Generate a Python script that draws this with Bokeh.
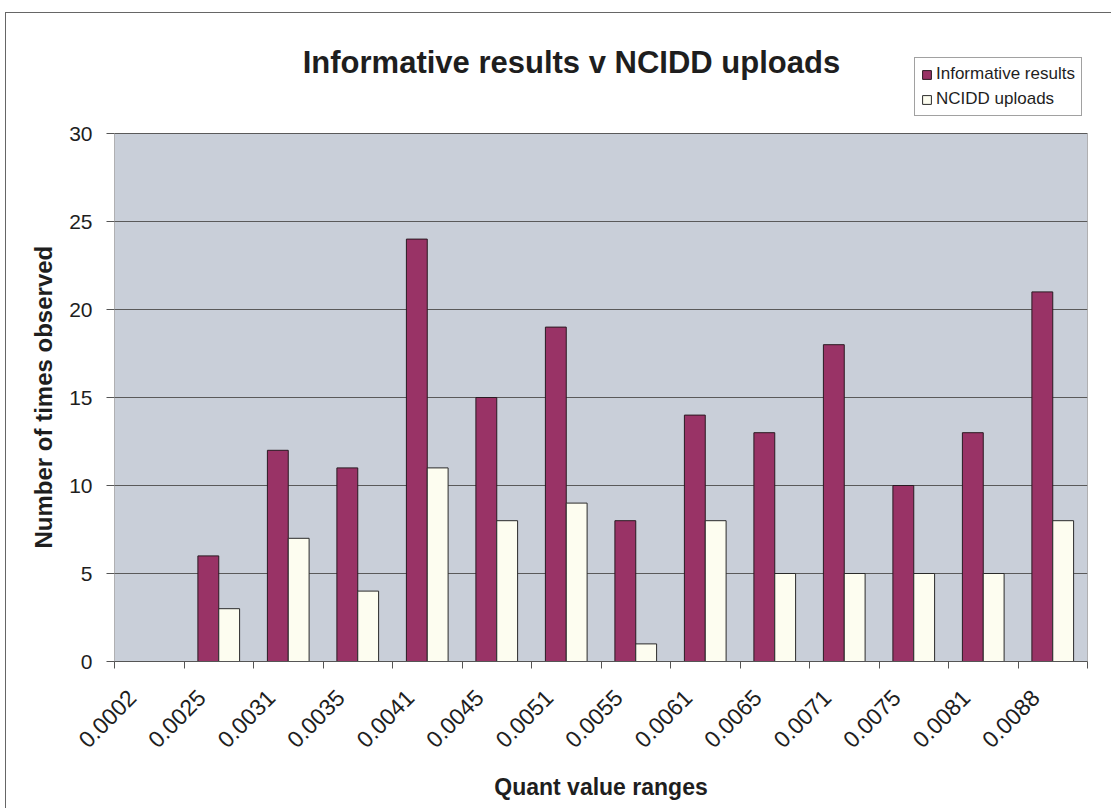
from bokeh.plotting import figure
from bokeh.embed import file_html
from bokeh.resources import INLINE
from bokeh.models import (ColumnDataSource, Range1d, FixedTicker, Legend, LegendItem,
                          BoxAnnotation, Label, Title)
from bokeh.transform import dodge

categories = ["0.0002", "0.0025", "0.0031", "0.0035", "0.0041", "0.0045", "0.0051",
              "0.0055", "0.0061", "0.0065", "0.0071", "0.0075", "0.0081", "0.0088"]
informative = [0, 6, 12, 11, 24, 15, 19, 8, 14, 13, 18, 10, 13, 21]
ncidd = [0, 3, 7, 4, 11, 8, 9, 1, 8, 5, 5, 5, 5, 8]
y_ticks = [0, 5, 10, 15, 20, 25, 30]
Y_MAX = 30

n = len(categories)
centers = [i + 0.5 for i in range(n)]
boundaries = [float(i) for i in range(n + 1)]
label_pos = [c - 0.25 for c in centers]

src = ColumnDataSource(dict(x=centers, inf=informative, nc=ncidd, cat=categories))

FONT = "Liberation Sans"
TXT = "#1e1e1e"

# layout (pixels): plot area spans 528 px for 0..30; frame extended upward to hold title & legend
PLOT_H = 528
FRAME_H = 620
PX_PER_UNIT = PLOT_H / Y_MAX
y_top = FRAME_H / PX_PER_UNIT

p = figure(width=1106, height=796, output_backend="svg", toolbar_location=None,
           x_range=Range1d(0, n), y_range=Range1d(0, y_top),
           min_border_left=108, min_border_right=25, min_border_top=28, min_border_bottom=148,
           margin=(12, 0, 0, 5))
p.styles = {"border-top": "1px solid #666666", "border-left": "1px solid #666666"}

p.background_fill_color = "white"
p.border_fill_color = "white"
p.outline_line_color = None

plot_area = BoxAnnotation(left=0, right=n, bottom=0, top=Y_MAX, level="image",
                          fill_color="#c9cfd9", fill_alpha=1,
                          line_color="#6f6f6f", line_width=1, line_alpha=1)
p.add_layout(plot_area)

r1 = p.vbar(x=dodge("x", -0.15, range=p.x_range), top="inf", width=0.3, source=src,
            fill_color="#993366", line_color="#2a1a22", line_width=1)
r2 = p.vbar(x=dodge("x", 0.15, range=p.x_range), top="nc", width=0.3, source=src,
            fill_color="#fdfdf0", line_color="#2a2a2a", line_width=1)

# chart title (inside the extended frame, above the plot area)
title = Label(x=6.575, y=599 / PX_PER_UNIT,
              text="Informative results v NCIDD uploads",
              text_align="center", text_baseline="alphabetic",
              text_font=FONT, text_font_size="31px", text_font_style="bold",
              text_color=TXT)
p.add_layout(title)

# x axis
xa = p.xaxis[0]
xa.ticker = FixedTicker(ticks=label_pos, minor_ticks=boundaries)
xa.major_label_overrides = {c: lab for c, lab in zip(label_pos, categories)}
xa.major_label_orientation = 0.785398
xa.major_tick_in = 0
xa.major_tick_out = 0
xa.minor_tick_in = 0
xa.minor_tick_out = 7
xa.minor_tick_line_color = "#555555"
xa.axis_line_color = "#555555"
xa.major_label_text_font = FONT
xa.major_label_text_font_size = "23px"
xa.major_label_text_color = TXT
xa.major_label_standoff = 25
xa.axis_label = "Quant value ranges"
xa.axis_label_text_font = FONT
xa.axis_label_text_font_size = "23px"
xa.axis_label_text_font_style = "bold"
xa.axis_label_text_color = TXT
xa.axis_label_standoff = 16

# y axis
ya = p.yaxis[0]
ya.ticker = FixedTicker(ticks=y_ticks)
ya.major_tick_in = 0
ya.major_tick_out = 8
ya.minor_tick_line_color = None
ya.major_tick_line_color = "#555555"
ya.axis_line_color = None
ya.major_label_text_font = FONT
ya.major_label_text_font_size = "21px"
ya.major_label_text_color = TXT
ya.major_label_standoff = 14

ytitle = Title(text="Number of times observed", align="left", offset=113, standoff=20,
               text_font=FONT, text_font_size="24px", text_font_style="bold",
               text_color=TXT)
p.add_layout(ytitle, "left")

p.xgrid.grid_line_color = None
p.ygrid.ticker = FixedTicker(ticks=y_ticks)
p.ygrid.grid_line_color = "#5a5a5a"
p.ygrid.grid_line_width = 1

legend = Legend(items=[LegendItem(label="Informative results", renderers=[r1]),
                       LegendItem(label="NCIDD uploads", renderers=[r2])],
                location=(800, 545))
legend.border_line_color = "#444444"
legend.border_line_width = 1
legend.background_fill_color = "white"
legend.background_fill_alpha = 1
legend.label_text_font = FONT
legend.label_text_font_size = "17px"
legend.label_text_color = TXT
legend.glyph_width = 11
legend.glyph_height = 11
legend.label_height = 18
legend.label_standoff = 4
legend.spacing = 5
legend.padding = 6
legend.margin = 0
p.add_layout(legend, "center")

open("out.html", "w").write(file_html(p, INLINE))
